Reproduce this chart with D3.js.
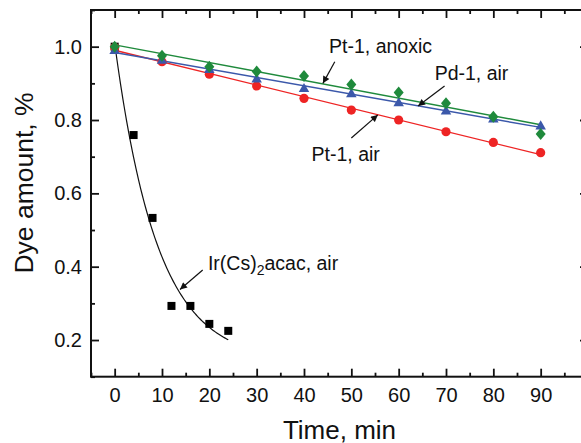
<!DOCTYPE html>
<html><head><meta charset="utf-8">
<script src="https://cdn.jsdelivr.net/npm/d3@7"></script>
<style>body{margin:0;background:#fff}svg{display:block}text{font-family:"Liberation Sans",Arial,sans-serif;fill:#111}</style>
</head><body><svg id="c" width="581" height="443"></svg>
<script>
// ---- data ----
const timesLin = [0, 10, 20, 30, 40, 50, 60, 70, 80, 90];
const ptAnoxic = [1.0, 0.975, 0.945, 0.932, 0.92, 0.897, 0.875, 0.846, 0.809, 0.762];
const pdAir    = [0.99, 0.963, 0.938, 0.912, 0.886, 0.872, 0.847, 0.825, 0.803, 0.784];
const ptAir    = [0.998, 0.959, 0.925, 0.893, 0.859, 0.827, 0.8, 0.768, 0.739, 0.711];
const timesIr  = [0, 4, 8, 12, 16, 20, 24];
const irAir    = [1.0, 0.759, 0.533, 0.293, 0.293, 0.244, 0.225];
const irFit    = {y0: 0.14, a: 0.87, k: 0.111, tMax: 24};
const xTicks   = [0, 10, 20, 30, 40, 50, 60, 70, 80, 90];
const xMinor   = [-5, 5, 15, 25, 35, 45, 55, 65, 75, 85, 95];
const yTicks   = [0.2, 0.4, 0.6, 0.8, 1.0];
const yMinor   = [0.1, 0.3, 0.5, 0.7, 0.9, 1.1];
const labels = {
  x: "Time, min", y: "Dye amount, %",
  anoxic: "Pt-1, anoxic", pd: "Pd-1, air", ptair: "Pt-1, air"
};

const svg = d3.select("#c");
const L = 91, R = 588, T = 10, B = 376.7;
const x = d3.scaleLinear().domain([-5, 100]).range([L, R]);
const y = d3.scaleLinear().domain([0.1, 1.1]).range([B, T]);

const RED = "#ee2424", BLUE = "#3b58aa", GREEN = "#1f8a3c";

// arrow marker
svg.append("defs").append("marker")
  .attr("id", "ah").attr("viewBox", "0 0 10 10").attr("refX", 10).attr("refY", 5)
  .attr("markerWidth", 9).attr("markerHeight", 7).attr("markerUnits", "userSpaceOnUse")
  .attr("orient", "auto")
  .append("path").attr("d", "M0,0 L10,5 L0,10 z").attr("fill", "#111");

// axes
function styleAxis(g) {
  g.selectAll(".domain").remove();
  g.selectAll(".tick line").attr("stroke", "#111").attr("stroke-width", 1.8);
  g.selectAll(".tick text").style("font-size", "20px").attr("fill", "#111")
    .style("font-family", '"Liberation Sans",Arial,sans-serif');
}
const fmtY = d3.format(".1f");
svg.append("g").attr("transform", `translate(0,${B})`)
  .call(d3.axisBottom(x).tickValues(xTicks).tickSize(-8).tickPadding(11).tickFormat(d3.format("d"))).call(styleAxis);
svg.append("g").attr("transform", `translate(0,${B})`)
  .call(d3.axisBottom(x).tickValues(xMinor).tickSize(-4).tickFormat("")).call(styleAxis);
svg.append("g").attr("transform", `translate(0,${T})`)
  .call(d3.axisTop(x).tickValues(xTicks).tickSize(-8).tickFormat("")).call(styleAxis);
svg.append("g").attr("transform", `translate(0,${T})`)
  .call(d3.axisTop(x).tickValues(xMinor).tickSize(-4).tickFormat("")).call(styleAxis);
svg.append("g").attr("transform", `translate(${L},0)`)
  .call(d3.axisLeft(y).tickValues(yTicks).tickSize(-8).tickPadding(9).tickFormat(fmtY)).call(styleAxis);
svg.append("g").attr("transform", `translate(${L},0)`)
  .call(d3.axisLeft(y).tickValues(yMinor).tickSize(-4).tickFormat("")).call(styleAxis);
svg.append("g").attr("transform", `translate(${R},0)`)
  .call(d3.axisRight(y).tickValues(yTicks).tickSize(-8).tickFormat("")).call(styleAxis);
svg.append("g").attr("transform", `translate(${R},0)`)
  .call(d3.axisRight(y).tickValues(yMinor).tickSize(-4).tickFormat("")).call(styleAxis);

svg.append("rect").attr("x", L).attr("y", T).attr("width", R - L).attr("height", B - T)
  .attr("fill", "none").attr("stroke", "#111").attr("stroke-width", 2);

// axis titles
svg.append("text").attr("x", (L + R) / 2).attr("y", 438.5).attr("text-anchor", "middle")
  .style("font-size", "26px").text(labels.x);
svg.append("text").attr("transform", "translate(33,183) rotate(-90)").attr("text-anchor", "middle")
  .style("font-size", "26.5px").text(labels.y);

// linear fits (least squares from the data)
function linFit(ts, vs) {
  const mt = d3.mean(ts), mv = d3.mean(vs);
  let sxy = 0, sxx = 0;
  ts.forEach((t, i) => { sxy += (t - mt) * (vs[i] - mv); sxx += (t - mt) ** 2; });
  const b = sxy / sxx;
  return t => mv + b * (t - mt);
}
const line = d3.line().x(d => x(d[0])).y(d => y(d[1]));
[[ptAir, RED], [pdAir, BLUE], [ptAnoxic, GREEN]].forEach(([vals, col]) => {
  const f = linFit(timesLin, vals);
  const t0 = d3.min(timesLin), t1 = d3.max(timesLin);
  svg.append("path").attr("d", line([[t0, f(t0)], [t1, f(t1)]]))
    .attr("fill", "none").attr("stroke", col).attr("stroke-width", 1.4);
});

// exponential fit for Ir
const irCurve = d3.range(0, irFit.tMax + 0.001, 0.25).map(t => [t, irFit.y0 + irFit.a * Math.exp(-irFit.k * t)]);
svg.append("path").attr("d", line(irCurve)).attr("fill", "none").attr("stroke", "#111").attr("stroke-width", 1.2);

// points
const g = svg.append("g");
g.selectAll(".ir").data(timesIr).enter().append("rect")
  .attr("x", (d) => x(d) - 4).attr("y", (d, i) => y(irAir[i]) - 4)
  .attr("width", 8).attr("height", 8).attr("fill", "#000");
g.selectAll(".pa").data(timesLin).enter().append("circle")
  .attr("cx", d => x(d)).attr("cy", (d, i) => y(ptAir[i])).attr("r", 4.6).attr("fill", RED);
const tri = d3.symbol().type(d3.symbolTriangle).size(48);
g.selectAll(".pd").data(timesLin).enter().append("path")
  .attr("d", tri).attr("transform", (d, i) => `translate(${x(d)},${y(pdAir[i]) + 0.5})`).attr("fill", BLUE);
g.selectAll(".an").data(timesLin).enter().append("path")
  .attr("d", "M0,-6 L5,0 L0,6 L-5,0 Z")
  .attr("transform", (d, i) => `translate(${x(d)},${y(ptAnoxic[i])})`).attr("fill", GREEN);

// annotations
function arrow(x1, y1, x2, y2) {
  svg.append("line").attr("x1", x1).attr("y1", y1).attr("x2", x2).attr("y2", y2)
    .attr("stroke", "#111").attr("stroke-width", 1.2).attr("marker-end", "url(#ah)");
}
const annFont = "19.5px";
svg.append("text").attr("x", x(45.3)).attr("y", y(0.982)).style("font-size", annFont).text(labels.anoxic);
arrow(x(46.5), y(0.959), x(44.0), y(0.900));
svg.append("text").attr("x", x(67.6)).attr("y", y(0.909)).style("font-size", annFont).text(labels.pd);
arrow(x(69.7), y(0.893), x(64.1), y(0.838));
svg.append("text").attr("x", x(41.6)).attr("y", y(0.688)).style("font-size", annFont).text(labels.ptair);
arrow(x(50.0), y(0.751), x(55.6), y(0.814));
const ir = svg.append("text").attr("x", x(19.7)).attr("y", y(0.39)).style("font-size", annFont);
ir.append("tspan").text("Ir(Cs)");
ir.append("tspan").attr("dy", 5).style("font-size", "14px").text("2");
ir.append("tspan").attr("dy", -5).text("acac, air");
arrow(x(18.6), y(0.391), x(13.8), y(0.338));
</script></body></html>
